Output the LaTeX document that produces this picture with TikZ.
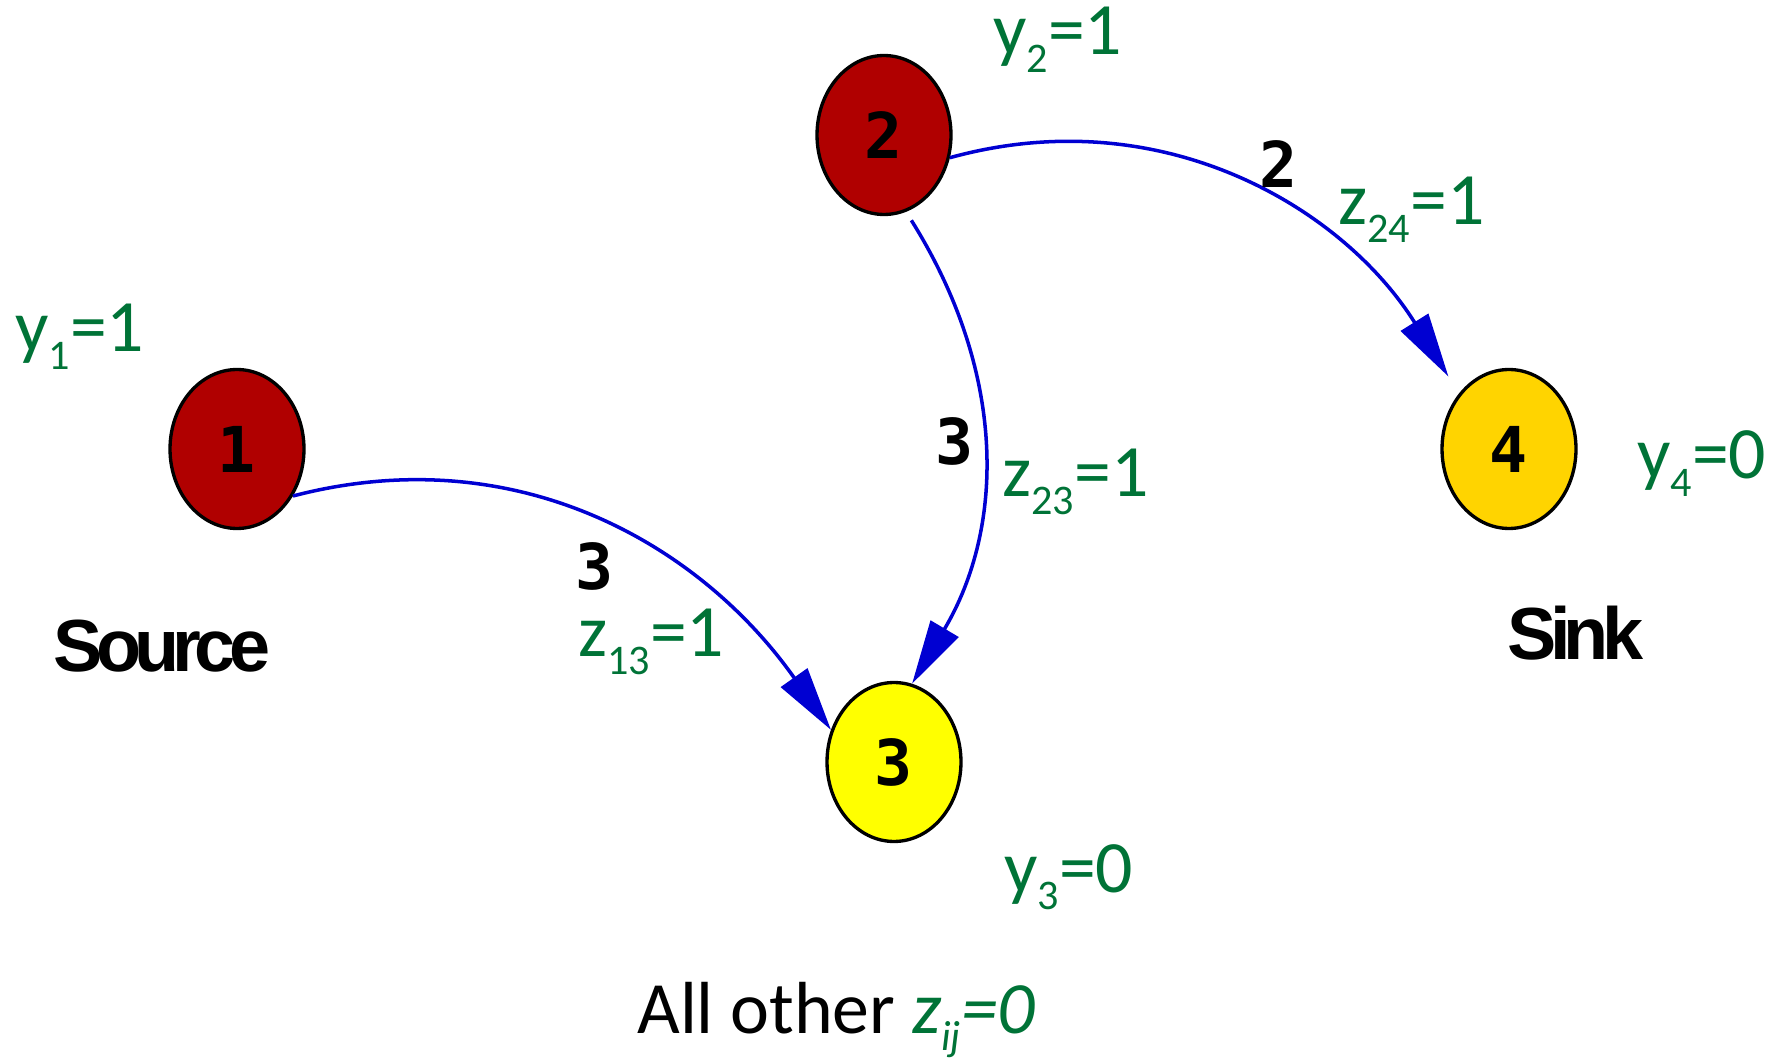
\documentclass[tikz,border=0pt]{standalone}
\usepackage{fontspec}
\setmainfont{Carlito}
\newfontfamily\numfont{DejaVu Sans Mono}
\newfontfamily\headfont{Liberation Sans}[LetterSpace=-9]
\usetikzlibrary{arrows.meta,shapes.geometric}
\definecolor{varcol}{RGB}{0,115,55}
\definecolor{flowblue}{RGB}{0,0,210}
\definecolor{srcred}{RGB}{176,0,0}
\definecolor{midyellow}{RGB}{255,255,0}
\definecolor{sinkgold}{RGB}{255,212,0}
\newcommand{\lsub}[1]{\raisebox{-0.24em}{\fontsize{24}{24}\selectfont #1}}

\begin{document}
\begin{tikzpicture}[x=0.02cm,y=0.02cm,
    vertex/.style={ellipse,draw,line width=1.9pt,minimum width=2.68cm,minimum height=3.18cm,
        inner sep=0pt,font=\numfont\bfseries\fontsize{36}{36}\selectfont},
    flow/.style={flowblue,line width=2pt,-{Triangle[length=1.28cm,width=0.64cm]}},
    varlabel/.style={anchor=base west,inner sep=0pt,text=varcol,font=\fontsize{42}{50}\selectfont},
    cost/.style={anchor=base west,inner sep=0pt,font=\numfont\bfseries\fontsize{36}{36}\selectfont},
    role/.style={anchor=base west,inner sep=0pt,font=\headfont\bfseries\fontsize{42}{50}\selectfont}]
        \useasboundingbox (0,0) rectangle (1785,1059);

        % Nodes of the network
        \node[vertex, fill=srcred] (n1) at (237,610) {1};
        \node[vertex, fill=srcred] (n2) at (884,924) {2};
        \node[vertex, fill=midyellow] (n3) at (894,297) {3};
        \node[vertex, fill=sinkgold] (n4) at (1509,610) {4};

        % Arcs carrying flow
        \draw[flow] (n1.-40) .. controls (515,621) and (699,516) .. (n3.153);
        \draw[flow, shorten <=0.2cm] (n2.-74) .. controls (1007,686) and (1005,532) .. (n3.77);
        \draw[flow, shorten >=0.4cm] (n2.-19) .. controls (1162,960) and (1343,851) .. (n4.132);

        % Arc costs and arc variables
        \node[cost] (c13) at (575,469) {3};
        \node[varlabel] (z13) at (578,402) {z\lsub{13}=1};
        \node[cost] (c23) at (935,594) {3};
        \node[varlabel] (z23) at (1002,562) {z\lsub{23}=1};
        \node[cost] (c24) at (1259,871) {2};
        \node[varlabel] (z24) at (1338,834) {z\lsub{24}=1};

        % Node variables
        \node[varlabel] (y1) at (15,707) {y\lsub{1}=1};
        \node[varlabel] (y2) at (993,1004) {y\lsub{2}=1};
        \node[varlabel] (y3) at (1004,167) {y\lsub{3}=0};
        \node[varlabel] (y4) at (1637,580) {y\lsub{4}=0};

        % Source and sink
        \node[role] (src) at (53,387) {Source};
        \node[role] (snk) at (1507,399) {Sink};

        \node[varlabel, text=black] (rest) at (637,26) {All other \textcolor{varcol}{\itshape z\lsub{ij}=0}};
    \end{tikzpicture}
\end{document}
